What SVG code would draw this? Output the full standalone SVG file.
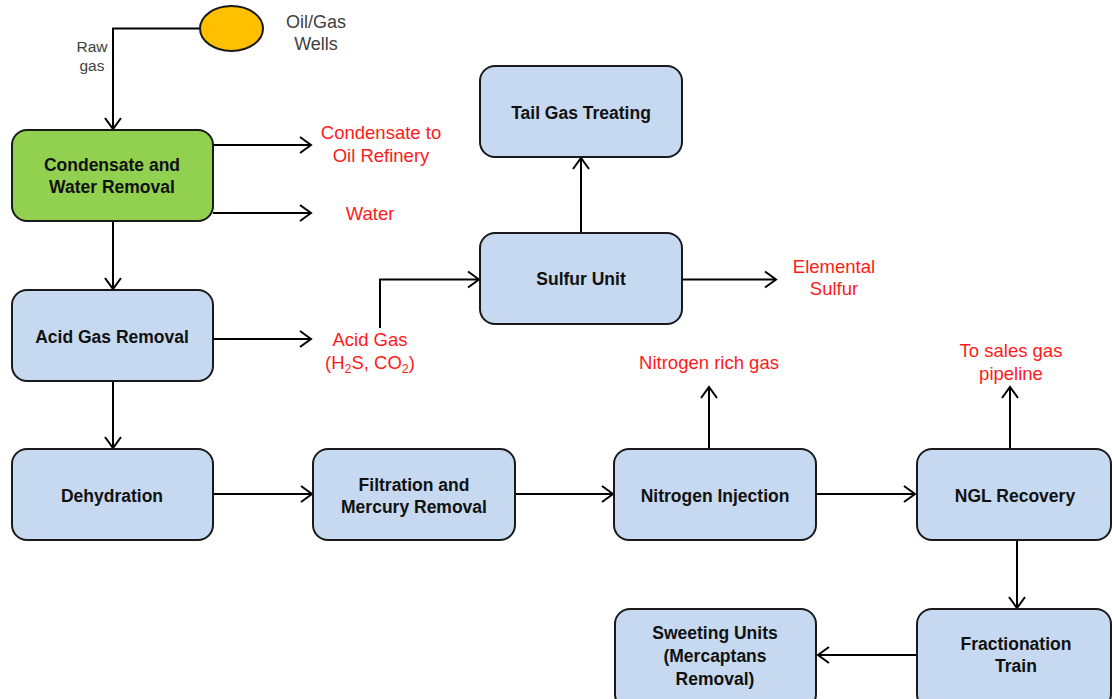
<svg xmlns="http://www.w3.org/2000/svg" width="1112" height="699" viewBox="0 0 1112 699">
<defs>
<marker id="arr" markerUnits="userSpaceOnUse" markerWidth="14" markerHeight="20" viewBox="0 0 14 20" refX="12" refY="10" orient="auto">
<path d="M1,2 L12,10 L1,18" fill="none" stroke="#000" stroke-width="2"/>
</marker>
<style>
.box{fill:#C6D9F0;stroke:#1a1a1a;stroke-width:2}
.lbl{font-family:"Liberation Sans",Arial,sans-serif;font-weight:bold;font-size:17.5px;fill:#111;text-anchor:middle}
.red{font-family:"Liberation Sans",Arial,sans-serif;font-size:18.5px;fill:#FF1A1A;text-anchor:middle}
.gray{font-family:"Liberation Sans",Arial,sans-serif;fill:#404040;text-anchor:middle}
.con{fill:none;stroke:#000;stroke-width:2;marker-end:url(#arr)}
</style>
</defs>
<rect width="1112" height="699" fill="#fff"/>

<g id="connectors">
<path class="con" d="M200,28.5 H113 V129"/>
<path class="con" d="M213,145 H311"/>
<path class="con" d="M213,213 H311"/>
<path class="con" d="M113,221 V289"/>
<path class="con" d="M213,339 H311"/>
<path class="con" d="M380,328 V279.5 H479"/>
<path class="con" d="M581,233 V158"/>
<path class="con" d="M682,279.5 H776"/>
<path class="con" d="M113,381 V448"/>
<path class="con" d="M213,494 H312"/>
<path class="con" d="M515,494 H613"/>
<path class="con" d="M709,449 V387"/>
<path class="con" d="M816,494 H915"/>
<path class="con" d="M1010,449 V387"/>
<path class="con" d="M1017,540 V608"/>
<path class="con" d="M916,655 H818"/>
</g>

<g id="wells">
<ellipse cx="231.5" cy="28.5" rx="31.5" ry="22.5" fill="#FFC000" stroke="#1a1a1a" stroke-width="2"/>
<text class="gray" x="316" y="28" font-size="18">Oil/Gas</text>
<text class="gray" x="316" y="50" font-size="18">Wells</text>
</g>
<g id="rawgas-label">
<text class="gray" x="92" y="52" font-size="15.5">Raw</text>
<text class="gray" x="92" y="71" font-size="15.5">gas</text>
</g>

<g id="condensate-water-removal">
<rect class="box" x="12" y="130" width="201" height="91" rx="15" style="fill:#92D050"/>
<text class="lbl" x="112" y="171">Condensate and</text>
<text class="lbl" x="112" y="193">Water Removal</text>
</g>
<g id="condensate-out">
<text class="red" x="381" y="139">Condensate to</text>
<text class="red" x="381" y="162">Oil Refinery</text>
</g>
<g id="water-out">
<text class="red" x="370" y="220">Water</text>
</g>

<g id="acid-gas-removal">
<rect class="box" x="12" y="290" width="201" height="91" rx="15"/>
<text class="lbl" x="112" y="343">Acid Gas Removal</text>
</g>
<g id="acid-gas-out">
<text class="red" x="370" y="346">Acid Gas</text>
<text class="red" x="370" y="369">(H<tspan font-size="12.5" dy="4">2</tspan><tspan dy="-4">S, CO</tspan><tspan font-size="12.5" dy="4">2</tspan><tspan dy="-4">)</tspan></text>
</g>

<g id="sulfur-unit">
<rect class="box" x="480" y="233" width="202" height="91" rx="15"/>
<text class="lbl" x="581" y="285">Sulfur Unit</text>
</g>
<g id="tail-gas-treating">
<rect class="box" x="480" y="66" width="202" height="91" rx="15"/>
<text class="lbl" x="581" y="119">Tail Gas Treating</text>
</g>
<g id="elemental-sulfur">
<text class="red" x="834" y="273">Elemental</text>
<text class="red" x="834" y="295">Sulfur</text>
</g>

<g id="dehydration">
<rect class="box" x="12" y="449" width="201" height="91" rx="15"/>
<text class="lbl" x="112" y="502">Dehydration</text>
</g>
<g id="filtration">
<rect class="box" x="313" y="449" width="202" height="91" rx="15"/>
<text class="lbl" x="414" y="491">Filtration and</text>
<text class="lbl" x="414" y="513">Mercury Removal</text>
</g>
<g id="nitrogen-injection">
<rect class="box" x="614" y="449" width="202" height="91" rx="15"/>
<text class="lbl" x="715" y="502">Nitrogen Injection</text>
</g>
<g id="nitrogen-out">
<text class="red" x="709" y="369">Nitrogen rich gas</text>
</g>
<g id="ngl-recovery">
<rect class="box" x="917" y="449" width="194" height="91" rx="15"/>
<text class="lbl" x="1015" y="502">NGL Recovery</text>
</g>
<g id="sales-gas">
<text class="red" x="1011" y="357">To sales gas</text>
<text class="red" x="1011" y="380">pipeline</text>
</g>
<g id="fractionation-train">
<rect class="box" x="917" y="609" width="194" height="100" rx="15"/>
<text class="lbl" x="1016" y="650">Fractionation</text>
<text class="lbl" x="1016" y="672">Train</text>
</g>
<g id="sweeting-units">
<rect class="box" x="615" y="609" width="201" height="100" rx="15"/>
<text class="lbl" x="715" y="639">Sweeting Units</text>
<text class="lbl" x="715" y="662">(Mercaptans</text>
<text class="lbl" x="715" y="685">Removal)</text>
</g>
</svg>
